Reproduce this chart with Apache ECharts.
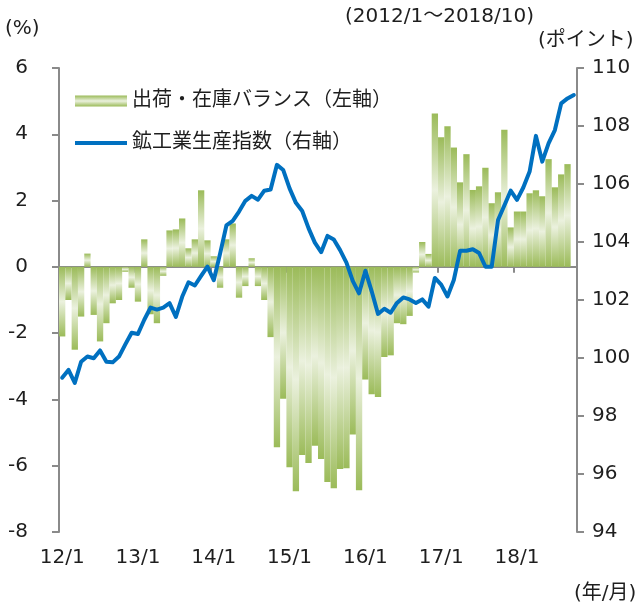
<!DOCTYPE html>
<html>
<head>
<meta charset="utf-8">
<script src="https://cdn.jsdelivr.net/npm/echarts@6/dist/echarts.min.js"></script>
<style>
html,body{margin:0;padding:0;background:#fff;}
#chart{width:641px;height:605px;}
</style>
</head>
<body>
<div id="chart"></div>
<script>
// Categories: 2012/1 .. 2018/10 (YY/M)
const categories = [
  '12/1','12/2','12/3','12/4','12/5','12/6','12/7','12/8','12/9','12/10','12/11','12/12',
  '13/1','13/2','13/3','13/4','13/5','13/6','13/7','13/8','13/9','13/10','13/11','13/12',
  '14/1','14/2','14/3','14/4','14/5','14/6','14/7','14/8','14/9','14/10','14/11','14/12',
  '15/1','15/2','15/3','15/4','15/5','15/6','15/7','15/8','15/9','15/10','15/11','15/12',
  '16/1','16/2','16/3','16/4','16/5','16/6','16/7','16/8','16/9','16/10','16/11','16/12',
  '17/1','17/2','17/3','17/4','17/5','17/6','17/7','17/8','17/9','17/10','17/11','17/12',
  '18/1','18/2','18/3','18/4','18/5','18/6','18/7','18/8','18/9','18/10'
];

// 出荷・在庫バランス (%), left axis
const balance = [
  -2.1, -1.0, -2.5, -1.5, 0.4, -1.45, -2.25, -1.7, -1.1, -1.0, -0.15, -0.63,
  -1.05, 0.83, -1.43, -1.7, -0.27, 1.1, 1.13, 1.46, 0.56, 0.83, 2.31, 0.8,
  0.32, -0.63, 0.83, 1.31, -0.93, -0.58, 0.26, -0.58, -1.0, -2.12, -5.44, -3.98,
  -6.05, -6.77, -5.68, -5.92, -5.4, -5.8, -6.49, -6.68, -6.1, -6.08, -5.06, -6.74,
  -3.4, -3.84, -3.93, -2.72, -2.67, -1.7, -1.73, -1.48, -0.17, 0.75, 0.39, 4.63,
  3.91, 4.24, 3.6, 2.55, 3.4, 2.32, 2.43, 2.99, 1.92, 2.25, 4.14, 1.19,
  1.67, 1.67, 2.22, 2.31, 2.13, 3.25, 2.4, 2.79, 3.1, null
];

// 鉱工業生産指数 (ポイント), right axis
const production = [
  99.32, 99.59, 99.14, 99.87, 100.05, 99.99, 100.26, 99.87, 99.85, 100.05, 100.47, 100.87,
  100.83, 101.32, 101.74, 101.67, 101.74, 101.89, 101.42, 102.11, 102.61, 102.5, 102.83, 103.15,
  102.68, 103.6, 104.57, 104.73, 105.05, 105.42, 105.59, 105.46, 105.77, 105.81, 106.66, 106.48,
  105.85, 105.35, 105.07, 104.48, 103.98, 103.65, 104.21, 104.09, 103.72, 103.29, 102.66, 102.23,
  103.01, 102.3, 101.52, 101.7, 101.56, 101.9, 102.09, 102.02, 101.9, 102.02, 101.77, 102.76,
  102.53, 102.12, 102.69, 103.7, 103.7, 103.75, 103.62, 103.15, 103.15, 104.76, 105.26, 105.77,
  105.45, 105.88, 106.43, 107.66, 106.77, 107.4, 107.86, 108.78, 108.95, 109.07
];

const seriesNames = ['出荷・在庫バランス（左軸）', '鉱工業生産指数（右軸）'];
const leftAxisRange = [-8, 6, 2];
const rightAxisRange = [94, 110, 2];
const unitLabels = ['(%)', '(2012/1～2018/10)', '(ポイント)', '(年/月)'];

const FONT = "'DejaVu Sans','Noto Sans CJK JP',sans-serif";
const FS = 20;
const TXT = '#1e1e1e';
const AXIS = '#8a8a8a';
const LINE_COLOR = '#0070C0';

const barGradient = {
  type: 'linear', x: 0, y: 0, x2: 0, y2: 1,
  colorStops: [
    { offset: 0, color: '#9BBB59' },
    { offset: 0.5, color: '#EBF1DE' },
    { offset: 1, color: '#9BBB59' }
  ]
};

const chart = echarts.init(document.getElementById('chart'), null, { renderer: 'canvas' });

const option = {
  backgroundColor: '#fff',
  animation: false,
  textStyle: { fontFamily: FONT },
  grid: { left: 59, right: 64, top: 68, bottom: 73, containLabel: false },
  legend: {
    orient: 'vertical',
    left: 75,
    top: 91,
    padding: 0,
    itemWidth: 52,
    itemHeight: 11,
    itemGap: 22,
    textStyle: { fontSize: FS, color: TXT, fontFamily: FONT },
    data: [
      { name: seriesNames[0], icon: 'rect' },
      { name: seriesNames[1], icon: 'path://M0,0 L52,0 L52,4 L0,4 Z', itemStyle: { color: LINE_COLOR } }
    ]
  },
  xAxis: [
    {
      type: 'category',
      data: categories,
      position: 'bottom',
      boundaryGap: true,
      axisLine: { show: true, onZero: true, onZeroAxisIndex: 0, lineStyle: { color: AXIS, width: 2 } },
      axisTick: { show: true, interval: 11, length: 6, lineStyle: { color: AXIS, width: 2 } },
      axisLabel: { show: false },
      splitLine: { show: false }
    },
    {
      type: 'category',
      data: categories,
      position: 'bottom',
      boundaryGap: true,
      axisLine: { show: false, onZero: false },
      axisTick: { show: false },
      axisLabel: { show: true, interval: 11, margin: 16, fontSize: FS, color: TXT, fontFamily: FONT },
      splitLine: { show: false }
    }
  ],
  yAxis: [
    {
      type: 'value',
      position: 'left',
      min: leftAxisRange[0], max: leftAxisRange[1], interval: leftAxisRange[2],
      axisLine: { show: true, lineStyle: { color: AXIS, width: 2 } },
      axisTick: { show: true, length: 7, lineStyle: { color: AXIS, width: 2 } },
      axisLabel: { margin: 31, fontSize: FS, color: TXT, fontFamily: FONT },
      splitLine: { show: false }
    },
    {
      type: 'value',
      position: 'right',
      min: rightAxisRange[0], max: rightAxisRange[1], interval: rightAxisRange[2],
      axisLine: { show: true, lineStyle: { color: AXIS, width: 2 } },
      axisTick: { show: true, length: 7, lineStyle: { color: AXIS, width: 2 } },
      axisLabel: { margin: 15, fontSize: FS, color: TXT, fontFamily: FONT },
      splitLine: { show: false }
    }
  ],
  series: [
    {
      name: seriesNames[0],
      type: 'bar',
      xAxisIndex: 0,
      yAxisIndex: 0,
      data: balance,
      barCategoryGap: '0%',
      itemStyle: { color: barGradient },
      z: 2
    },
    {
      name: seriesNames[1],
      type: 'line',
      xAxisIndex: 0,
      yAxisIndex: 1,
      data: production,
      symbol: 'none',
      showSymbol: false,
      lineStyle: { color: LINE_COLOR, width: 4, join: 'round', cap: 'round' },
      itemStyle: { color: LINE_COLOR },
      z: 5
    }
  ],
  graphic: [
    { type: 'text', x: 5, y: 29, style: { text: unitLabels[0], font: FS + 'px ' + FONT, fill: TXT, align: 'left', verticalAlign: 'middle' } },
    { type: 'text', x: 345, y: 17, style: { text: unitLabels[1], font: FS + 'px ' + FONT, fill: TXT, align: 'left', verticalAlign: 'middle' } },
    { type: 'text', x: 538, y: 41, style: { text: unitLabels[2], font: FS + 'px ' + FONT, fill: TXT, align: 'left', verticalAlign: 'middle' } },
    { type: 'text', x: 574, y: 594, style: { text: unitLabels[3], font: FS + 'px ' + FONT, fill: TXT, align: 'left', verticalAlign: 'middle' } }
  ]
};

chart.setOption(option);
</script>
</body>
</html>
